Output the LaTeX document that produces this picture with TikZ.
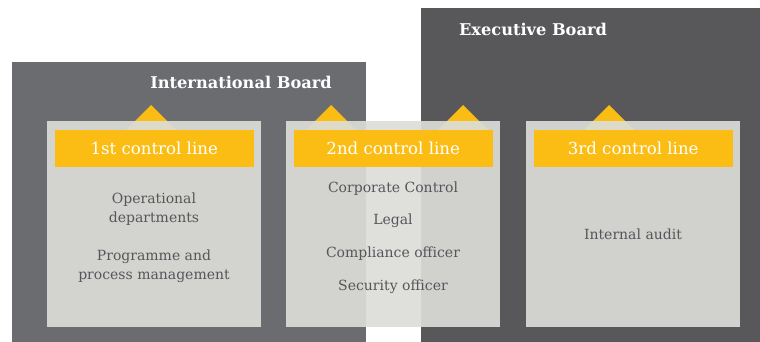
\documentclass[tikz,border=0pt]{standalone}
\usepackage{fontspec}
\setmainfont{DejaVu Serif}
\usetikzlibrary{positioning}
\definecolor{intlgray}{HTML}{6B6C70}
\definecolor{execgray}{HTML}{58585A}
\definecolor{paneltint}{HTML}{DCDDD8}
\definecolor{lineyellow}{HTML}{FBBC13}
\definecolor{bodytext}{HTML}{55565A}

\begin{document}
\begin{tikzpicture}[x=1pt, y=-1pt,
    board/.style={fill=#1, inner sep=0pt, anchor=north west},
    panel/.style={fill=paneltint, fill opacity=0.92, minimum width=214pt,
        minimum height=206pt, inner sep=0pt, anchor=north west},
    bar/.style={fill=lineyellow, text=white, minimum width=199pt,
        minimum height=37pt, inner sep=0pt, font=\fontsize{16.6}{18}\selectfont},
    item/.style={text=bodytext, align=center, font=\fontsize{14}{19}\selectfont},
    head/.style={text=white, font=\bfseries\fontsize{16.2}{18}\selectfont}]
    \useasboundingbox (0,0) rectangle (760,342);
    % Boards
    \node[board=intlgray, minimum width=354pt, minimum height=280pt] (intl) at (12,62) {};
    \node[board=execgray, minimum width=339pt, minimum height=334pt] (exec) at (421,8) {};
    \node[head] (intltitle) at (241,82) {International Board};
    \node[head] (exectitle) at (533,29) {Executive Board};
    % Pointers
    \foreach \x in {151,331,463,609} {
        \fill[lineyellow] (\x,105) -- (\x+25,130) -- (\x-25,130) -- cycle;
    }
    % Control lines
    \foreach \n/\x in {1/47, 2/286, 3/526} {
        \node[panel] (panel\n) at (\x,121) {};
    }
    \node[bar, below=9pt of panel1.north, anchor=north] (bar1) {1st control line};
    \node[bar, below=9pt of panel2.north, anchor=north] (bar2) {2nd control line};
    \node[bar, below=9pt of panel3.north, anchor=north] (bar3) {3rd control line};
    % 1st line
    \node[item] (ops) at (154,209.5) {Operational\\departments};
    \node[item] (progmgmt) at (154,266) {Programme and\\process management};
    % 2nd line
    \node[item] (corpctrl) at (393,189) {Corporate Control};
    \node[item] (legal) at (393,221) {Legal};
    \node[item] (compliance) at (393,254) {Compliance officer};
    \node[item] (security) at (393,287) {Security officer};
    % 3rd line
    \node[item] (audit) at (633,234) {Internal audit};
\end{tikzpicture}
\end{document}
